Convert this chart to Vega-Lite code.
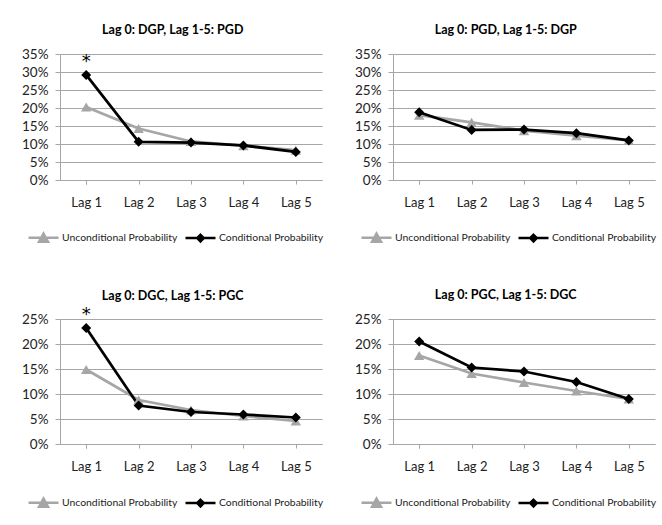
{
  "$schema": "https://vega.github.io/schema/vega-lite/v6.json",
  "background": "white",
  "padding": {"left": 21, "top": 23, "right": 0, "bottom": 0},
  "config": {
    "view": {"stroke": null},
    "font": "Lato",
    "axis": {
      "labelFont": "Lato", "labelColor": "#222222",
      "domainColor": "#a6a6a6", "tickColor": "#a6a6a6", "gridColor": "#a6a6a6",
      "domainWidth": 1, "tickWidth": 1, "gridWidth": 1, "title": null
    },
    "axisX": {"labelFontSize": 13, "labelAngle": 0, "tickBand": "extent", "tickSize": 4, "labelPadding": 12, "grid": false},
    "axisY": {"labelFontSize": 13.5, "labelExpr": "datum.value + '%'", "tickSize": 5, "labelPadding": 7, "grid": true},
    "title": {"font": "Lato", "fontSize": 12.5, "fontWeight": "bold", "color": "#000000", "frame": "bounds", "anchor": "middle", "offset": 11},
    "legend": {"labelFont": "Lato", "labelFontSize": 10.4, "labelColor": "#222222", "orient": "none", "legendX": -33, "legendY": 167, "direction": "horizontal", "title": null, "symbolSize": 900, "symbolStrokeWidth": 2.5, "columnPadding": 2, "labelOffset": 2}
  },
  "data": {"values": [
    {"panel": 1, "lag": "Lag 1", "series": "Unconditional Probability", "value": 20.3},
    {"panel": 1, "lag": "Lag 2", "series": "Unconditional Probability", "value": 14.3},
    {"panel": 1, "lag": "Lag 3", "series": "Unconditional Probability", "value": 10.7},
    {"panel": 1, "lag": "Lag 4", "series": "Unconditional Probability", "value": 9.5},
    {"panel": 1, "lag": "Lag 5", "series": "Unconditional Probability", "value": 8.3},
    {"panel": 1, "lag": "Lag 1", "series": "Conditional Probability", "value": 29.2, "note": "*"},
    {"panel": 1, "lag": "Lag 2", "series": "Conditional Probability", "value": 10.6},
    {"panel": 1, "lag": "Lag 3", "series": "Conditional Probability", "value": 10.4},
    {"panel": 1, "lag": "Lag 4", "series": "Conditional Probability", "value": 9.6},
    {"panel": 1, "lag": "Lag 5", "series": "Conditional Probability", "value": 7.8},
    {"panel": 2, "lag": "Lag 1", "series": "Unconditional Probability", "value": 18.0},
    {"panel": 2, "lag": "Lag 2", "series": "Unconditional Probability", "value": 16.0},
    {"panel": 2, "lag": "Lag 3", "series": "Unconditional Probability", "value": 13.7},
    {"panel": 2, "lag": "Lag 4", "series": "Unconditional Probability", "value": 12.3},
    {"panel": 2, "lag": "Lag 5", "series": "Unconditional Probability", "value": 11.0},
    {"panel": 2, "lag": "Lag 1", "series": "Conditional Probability", "value": 18.8},
    {"panel": 2, "lag": "Lag 2", "series": "Conditional Probability", "value": 13.9},
    {"panel": 2, "lag": "Lag 3", "series": "Conditional Probability", "value": 14.0},
    {"panel": 2, "lag": "Lag 4", "series": "Conditional Probability", "value": 13.0},
    {"panel": 2, "lag": "Lag 5", "series": "Conditional Probability", "value": 11.0},
    {"panel": 3, "lag": "Lag 1", "series": "Unconditional Probability", "value": 14.9},
    {"panel": 3, "lag": "Lag 2", "series": "Unconditional Probability", "value": 8.8},
    {"panel": 3, "lag": "Lag 3", "series": "Unconditional Probability", "value": 6.8},
    {"panel": 3, "lag": "Lag 4", "series": "Unconditional Probability", "value": 5.6},
    {"panel": 3, "lag": "Lag 5", "series": "Unconditional Probability", "value": 4.6},
    {"panel": 3, "lag": "Lag 1", "series": "Conditional Probability", "value": 23.2, "note": "*"},
    {"panel": 3, "lag": "Lag 2", "series": "Conditional Probability", "value": 7.7},
    {"panel": 3, "lag": "Lag 3", "series": "Conditional Probability", "value": 6.4},
    {"panel": 3, "lag": "Lag 4", "series": "Conditional Probability", "value": 5.9},
    {"panel": 3, "lag": "Lag 5", "series": "Conditional Probability", "value": 5.3},
    {"panel": 4, "lag": "Lag 1", "series": "Unconditional Probability", "value": 17.7},
    {"panel": 4, "lag": "Lag 2", "series": "Unconditional Probability", "value": 14.1},
    {"panel": 4, "lag": "Lag 3", "series": "Unconditional Probability", "value": 12.3},
    {"panel": 4, "lag": "Lag 4", "series": "Unconditional Probability", "value": 10.6},
    {"panel": 4, "lag": "Lag 5", "series": "Unconditional Probability", "value": 9.0},
    {"panel": 4, "lag": "Lag 1", "series": "Conditional Probability", "value": 20.5},
    {"panel": 4, "lag": "Lag 2", "series": "Conditional Probability", "value": 15.3},
    {"panel": 4, "lag": "Lag 3", "series": "Conditional Probability", "value": 14.5},
    {"panel": 4, "lag": "Lag 4", "series": "Conditional Probability", "value": 12.4},
    {"panel": 4, "lag": "Lag 5", "series": "Conditional Probability", "value": 9.0}
  ]},
  "columns": 2,
  "spacing": {"row": 41, "column": 30},
  "resolve": {"scale": {"stroke": "independent", "y": "independent"}, "legend": {"stroke": "independent"}},
  "concat": [
    {
      "title": "Lag 0: DGP, Lag 1-5: PGD",
      "width": 262, "height": 126,
      "transform": [{"filter": "datum.panel === 1"}],
      "encoding": {
        "x": {"field": "lag", "type": "ordinal", "scale": {"paddingInner": 0, "paddingOuter": 0}},
        "y": {"field": "value", "type": "quantitative", "scale": {"domain": [0, 35], "nice": false}, "axis": {"values": [0,5,10,15,20,25,30,35]}}
      },
      "layer": [
        {"mark": {"type": "line", "strokeWidth": 2.75},
         "encoding": {"stroke": {"field": "series", "type": "nominal", "scale": {"domain": ["Unconditional Probability", "Conditional Probability"], "range": ["#a6a6a6", "#000000"]},
           "legend": {"encode": {"symbols": {"update": {
               "shape": {"signal": "datum.value === 'Unconditional Probability' ? 'M-1,0H1M-0.3,0.27L0,-0.27L0.3,0.27Z' : 'M-1,0H1M0,-0.22L0.22,0L0,0.22L-0.22,0Z'"},
               "fill": {"signal": "datum.value === 'Unconditional Probability' ? '#a6a6a6' : '#000000'"},
               "stroke": {"signal": "datum.value === 'Unconditional Probability' ? '#a6a6a6' : '#000000'"},
               "strokeWidth": {"value": 2.5}}}}}}}},
        {"transform": [{"filter": "datum.series === 'Unconditional Probability'"}],
         "mark": {"type": "point", "shape": "triangle-up", "filled": true, "opacity": 1, "color": "#a6a6a6", "size": 110}},
        {"transform": [{"filter": "datum.series === 'Conditional Probability'"}],
         "mark": {"type": "point", "shape": "diamond", "filled": true, "opacity": 1, "color": "#000000", "size": 100}},
        {"transform": [{"filter": "datum.note"}],
         "mark": {"type": "text", "font": "DejaVu Sans", "fontSize": 18, "baseline": "middle", "dy": -13, "color": "#000000"},
         "encoding": {"text": {"field": "note"}}}
      ]
    },
    {
      "title": "Lag 0: PGD, Lag 1-5: DGP",
      "width": 262, "height": 126,
      "transform": [{"filter": "datum.panel === 2"}],
      "encoding": {
        "x": {"field": "lag", "type": "ordinal", "scale": {"paddingInner": 0, "paddingOuter": 0}},
        "y": {"field": "value", "type": "quantitative", "scale": {"domain": [0, 35], "nice": false}, "axis": {"values": [0,5,10,15,20,25,30,35]}}
      },
      "layer": [
        {"mark": {"type": "line", "strokeWidth": 2.75},
         "encoding": {"stroke": {"field": "series", "type": "nominal", "scale": {"domain": ["Unconditional Probability", "Conditional Probability"], "range": ["#a6a6a6", "#000000"]},
           "legend": {"encode": {"symbols": {"update": {
               "shape": {"signal": "datum.value === 'Unconditional Probability' ? 'M-1,0H1M-0.3,0.27L0,-0.27L0.3,0.27Z' : 'M-1,0H1M0,-0.22L0.22,0L0,0.22L-0.22,0Z'"},
               "fill": {"signal": "datum.value === 'Unconditional Probability' ? '#a6a6a6' : '#000000'"},
               "stroke": {"signal": "datum.value === 'Unconditional Probability' ? '#a6a6a6' : '#000000'"},
               "strokeWidth": {"value": 2.5}}}}}}}},
        {"transform": [{"filter": "datum.series === 'Unconditional Probability'"}],
         "mark": {"type": "point", "shape": "triangle-up", "filled": true, "opacity": 1, "color": "#a6a6a6", "size": 110}},
        {"transform": [{"filter": "datum.series === 'Conditional Probability'"}],
         "mark": {"type": "point", "shape": "diamond", "filled": true, "opacity": 1, "color": "#000000", "size": 100}}
      ]
    },
    {
      "title": {"text": "Lag 0: DGC, Lag 1-5: PGC", "offset": 4},
      "width": 262, "height": 125,
      "transform": [{"filter": "datum.panel === 3"}],
      "encoding": {
        "x": {"field": "lag", "type": "ordinal", "scale": {"paddingInner": 0, "paddingOuter": 0}},
        "y": {"field": "value", "type": "quantitative", "scale": {"domain": [0, 25], "nice": false}, "axis": {"values": [0,5,10,15,20,25]}}
      },
      "layer": [
        {"mark": {"type": "line", "strokeWidth": 2.75},
         "encoding": {"stroke": {"field": "series", "type": "nominal", "scale": {"domain": ["Unconditional Probability", "Conditional Probability"], "range": ["#a6a6a6", "#000000"]},
           "legend": {"encode": {"symbols": {"update": {
               "shape": {"signal": "datum.value === 'Unconditional Probability' ? 'M-1,0H1M-0.3,0.27L0,-0.27L0.3,0.27Z' : 'M-1,0H1M0,-0.22L0.22,0L0,0.22L-0.22,0Z'"},
               "fill": {"signal": "datum.value === 'Unconditional Probability' ? '#a6a6a6' : '#000000'"},
               "stroke": {"signal": "datum.value === 'Unconditional Probability' ? '#a6a6a6' : '#000000'"},
               "strokeWidth": {"value": 2.5}}}}}}}},
        {"transform": [{"filter": "datum.series === 'Unconditional Probability'"}],
         "mark": {"type": "point", "shape": "triangle-up", "filled": true, "opacity": 1, "color": "#a6a6a6", "size": 110}},
        {"transform": [{"filter": "datum.series === 'Conditional Probability'"}],
         "mark": {"type": "point", "shape": "diamond", "filled": true, "opacity": 1, "color": "#000000", "size": 100}},
        {"transform": [{"filter": "datum.note"}],
         "mark": {"type": "text", "font": "DejaVu Sans", "fontSize": 18, "baseline": "middle", "dy": -13, "color": "#000000"},
         "encoding": {"text": {"field": "note"}}}
      ]
    },
    {
      "title": "Lag 0: PGC, Lag 1-5: DGC",
      "width": 262, "height": 125,
      "transform": [{"filter": "datum.panel === 4"}],
      "encoding": {
        "x": {"field": "lag", "type": "ordinal", "scale": {"paddingInner": 0, "paddingOuter": 0}},
        "y": {"field": "value", "type": "quantitative", "scale": {"domain": [0, 25], "nice": false}, "axis": {"values": [0,5,10,15,20,25]}}
      },
      "layer": [
        {"mark": {"type": "line", "strokeWidth": 2.75},
         "encoding": {"stroke": {"field": "series", "type": "nominal", "scale": {"domain": ["Unconditional Probability", "Conditional Probability"], "range": ["#a6a6a6", "#000000"]},
           "legend": {"encode": {"symbols": {"update": {
               "shape": {"signal": "datum.value === 'Unconditional Probability' ? 'M-1,0H1M-0.3,0.27L0,-0.27L0.3,0.27Z' : 'M-1,0H1M0,-0.22L0.22,0L0,0.22L-0.22,0Z'"},
               "fill": {"signal": "datum.value === 'Unconditional Probability' ? '#a6a6a6' : '#000000'"},
               "stroke": {"signal": "datum.value === 'Unconditional Probability' ? '#a6a6a6' : '#000000'"},
               "strokeWidth": {"value": 2.5}}}}}}}},
        {"transform": [{"filter": "datum.series === 'Unconditional Probability'"}],
         "mark": {"type": "point", "shape": "triangle-up", "filled": true, "opacity": 1, "color": "#a6a6a6", "size": 110}},
        {"transform": [{"filter": "datum.series === 'Conditional Probability'"}],
         "mark": {"type": "point", "shape": "diamond", "filled": true, "opacity": 1, "color": "#000000", "size": 100}}
      ]
    }
  ]
}
